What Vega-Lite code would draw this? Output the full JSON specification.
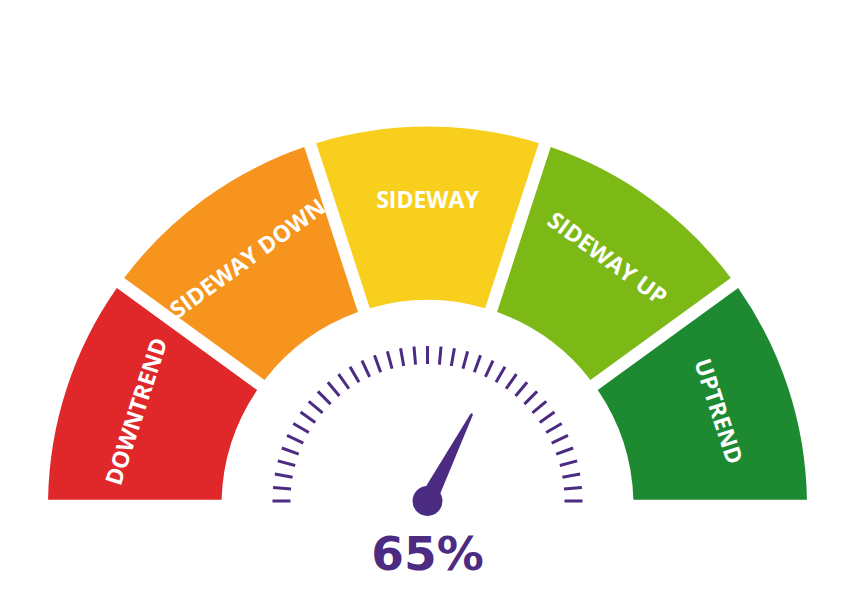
{
  "$schema": "https://vega.github.io/schema/vega-lite/v6.json",
  "width": 857,
  "height": 603,
  "autosize": "none",
  "padding": 0,
  "background": "white",
  "config": {"view": {"stroke": null}},
  "datasets": {
    "segments": [
      {"label": "DOWNTREND", "start": 0, "end": 36, "mid": 18},
      {"label": "SIDEWAY DOWN", "start": 36, "end": 72, "mid": 54},
      {"label": "SIDEWAY", "start": 72, "end": 108, "mid": 90},
      {"label": "SIDEWAY UP", "start": 108, "end": 144, "mid": 126},
      {"label": "UPTREND", "start": 144, "end": 180, "mid": 162}
    ],
    "ticks": [
      {"deg": 0}, {"deg": 5}, {"deg": 10}, {"deg": 15}, {"deg": 20}, {"deg": 25}, {"deg": 30}, {"deg": 35},
      {"deg": 40}, {"deg": 45}, {"deg": 50}, {"deg": 55}, {"deg": 60}, {"deg": 65}, {"deg": 70}, {"deg": 75},
      {"deg": 80}, {"deg": 85}, {"deg": 90}, {"deg": 95}, {"deg": 100}, {"deg": 105}, {"deg": 110}, {"deg": 115},
      {"deg": 120}, {"deg": 125}, {"deg": 130}, {"deg": 135}, {"deg": 140}, {"deg": 145}, {"deg": 150}, {"deg": 155},
      {"deg": 160}, {"deg": 165}, {"deg": 170}, {"deg": 175}, {"deg": 180}
    ],
    "reading": [{"value": 0.65}]
  },
  "encoding": {
    "x": {"datum": 0, "type": "quantitative", "scale": {"domain": [-1.1265, 1.1318], "nice": false, "zero": false}, "axis": null}
  },
  "layer": [
    {
      "data": {"name": "segments"},
      "mark": {"type": "arc", "radius": 379.5, "radius2": 206, "padAngle": 0.029},
      "encoding": {
        "y": {"datum": 0, "type": "quantitative", "scale": {"domain": [-0.2556, 1.3333], "nice": false, "zero": false}, "axis": null},
        "theta": {"field": "start", "type": "quantitative", "stack": null, "scale": {"domain": [0, 180], "range": [-1.5708, 1.5708], "nice": false, "zero": false}},
        "theta2": {"field": "end"},
        "color": {
          "field": "label", "type": "nominal", "legend": null,
          "scale": {
            "domain": ["DOWNTREND", "SIDEWAY DOWN", "SIDEWAY", "SIDEWAY UP", "UPTREND"],
            "range": ["#E0282A", "#F7941D", "#F8CF1D", "#7CB917", "#1D8A32"]
          }
        }
      }
    },
    {
      "data": {"name": "segments"},
      "mark": {"type": "text", "radius": 305, "align": "center", "baseline": "middle", "font": "Open Sans", "fontWeight": "bold", "fontSize": 23, "color": "white"},
      "encoding": {
        "y": {"datum": 0, "type": "quantitative"},
        "theta": {"field": "mid", "type": "quantitative", "stack": null},
        "angle": {"field": "mid", "type": "quantitative", "scale": {"domain": [0, 180], "range": [-90, 90]}},
        "text": {"field": "label"}
      }
    },
    {
      "data": {"name": "ticks"},
      "mark": {"type": "arc", "radius": 155, "radius2": 137, "filled": false, "color": "#4B2C82", "strokeWidth": 3, "strokeCap": "butt", "strokeJoin": "bevel"},
      "encoding": {
        "y": {"datum": 0.0132, "type": "quantitative"},
        "theta": {"field": "deg", "type": "quantitative", "stack": null},
        "theta2": {"field": "deg"}
      }
    },
    {
      "data": {"name": "reading"},
      "mark": {"type": "point", "filled": true, "opacity": 1, "color": "#4B2C82", "size": 40000,
               "shape": "M-0.09,0 L-0.013,-0.97 Q0,-1 0.013,-0.97 L0.09,0 Z"},
      "encoding": {
        "y": {"datum": 0.0132, "type": "quantitative"},
        "angle": {"field": "value", "type": "quantitative", "scale": {"domain": [0, 1], "range": [-90, 90]}}
      }
    },
    {
      "data": {"name": "reading"},
      "mark": {"type": "point", "filled": true, "opacity": 1, "color": "#4B2C82", "size": 900, "shape": "circle"},
      "encoding": {
        "y": {"datum": 0.0132, "type": "quantitative"}
      }
    },
    {
      "data": {"name": "reading"},
      "mark": {"type": "text", "align": "center", "baseline": "alphabetic", "font": "DejaVu Sans", "fontWeight": "bold", "fontSize": 47, "color": "#4B2C82"},
      "encoding": {
        "y": {"datum": -0.1686, "type": "quantitative"},
        "text": {"field": "value", "type": "quantitative", "format": ".0%"}
      }
    }
  ],
  "resolve": {"scale": {"angle": "independent"}}
}
